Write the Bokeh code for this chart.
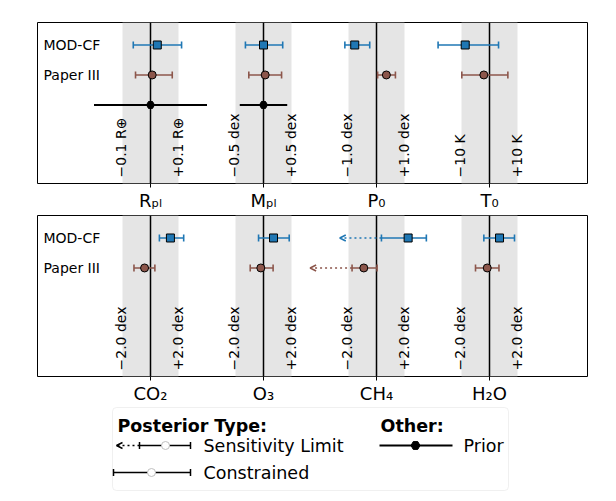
import numpy as np
from bokeh.plotting import figure
from bokeh.models import Range1d, FixedTicker, ColumnDataSource, Arrow, OpenHead, BoxAnnotation
from bokeh.layouts import column
from bokeh.embed import file_html
from bokeh.resources import INLINE
from bokeh.core.properties import value

BLUE = "#1f77b4"
BROWN = "#8c564b"
FONT = "DejaVu Sans"
BAND = 0.25  # half-width of grey band in column units

# ---------------- data: top panel ----------------
top_params = ["Rₚₗ", "Mₚₗ", "P₀", "T₀"]
top_scale = [0.1, 0.5, 1.0, 10.0]
top_minus = ["−0.1 R⊕", "−0.5 dex", "−1.0 dex", "−10 K"]
top_plus = ["+0.1 R⊕", "+0.5 dex", "+1.0 dex", "+10 K"]
modcf_top_val = [0.024, 0.0, -0.77, -8.6]
modcf_top_lo = [0.085, 0.32, 0.35, 9.6]
modcf_top_hi = [0.086, 0.34, 0.53, 11.8]
paper_top_val = [0.006, 0.03, 0.35, -2.0]
paper_top_lo = [0.059, 0.29, 0.31, 7.8]
paper_top_hi = [0.071, 0.29, 0.32, 8.5]
prior_val = [0.0, 0.0]        # R_pl, M_pl
prior_err = [0.2, 0.42]

# ---------------- data: bottom panel ----------------
bot_params = ["CO₂", "O₃", "CH₄", "H₂O"]
bot_scale = [2.0, 2.0, 2.0, 2.0]
bot_minus = ["−2.0 dex"] * 4
bot_plus = ["+2.0 dex"] * 4
modcf_bot_val = [1.41, 0.71, 2.24, 0.71]
modcf_bot_lo = [0.78, 1.06, 1.89, 1.11]
modcf_bot_hi = [0.94, 1.11, 1.29, 1.06]
modcf_bot_limit = [None, None, -2.6, None]   # sensitivity-limit arrow tip
paper_bot_val = [-0.42, -0.19, -0.90, -0.16]
paper_bot_lo = [0.75, 0.75, 0.83, 0.83]
paper_bot_hi = [0.73, 0.87, 0.94, 0.83]
paper_bot_limit = [None, None, -4.7, None]

ROW_Y = {"MOD-CF": 3.0, "Paper III": 2.0, "Prior": 1.0}


def to_x(vals, scales):
    cols = np.arange(1, len(vals) + 1)
    return cols + np.array(vals, dtype=float) / np.array(scales, dtype=float) * BAND


def make_panel(params, scales, minus, plus, border_top, border_bottom):
    p = figure(frame_width=550, frame_height=161, output_backend="svg", toolbar_location=None,
               x_range=Range1d(0, 550 / 113.0), y_range=Range1d(-1.62, 3.75),
               min_border_left=37, min_border_right=13, min_border_top=border_top,
               min_border_bottom=border_bottom, y_axis_location=None)
    p.xgrid.visible = False
    p.ygrid.visible = False
    p.outline_line_color = "black"
    p.outline_line_width = 1
    cols = np.arange(1, len(params) + 1)
    p.vstrip(x0=cols - BAND, x1=cols + BAND, fill_color="#e5e5e5", line_color=None)
    p.vspan(x=cols, line_color="black", line_width=1.5)
    ax = p.xaxis[0]
    ax.ticker = FixedTicker(ticks=list(cols))
    ax.major_label_overrides = {int(c): t for c, t in zip(cols, params)}
    ax.major_label_text_font = FONT
    ax.major_label_text_font_size = "18px"
    ax.major_label_text_color = "black"
    ax.major_label_standoff = 2
    ax.major_tick_out = 4
    ax.major_tick_in = 0
    ax.major_tick_line_color = "black"
    ax.minor_tick_line_color = None
    ax.axis_line_color = None
    p.text(x=cols - BAND, y=[-1.42] * len(cols), text=minus, angle=np.pi / 2,
           text_align="left", text_baseline="middle", text_font=value(FONT),
           text_font_size="14px", text_color="black", x_offset=-1)
    p.text(x=cols + BAND, y=[-1.42] * len(cols), text=plus, angle=np.pi / 2,
           text_align="left", text_baseline="middle", text_font=value(FONT),
           text_font_size="14px", text_color="black", x_offset=-1)
    p.text(x=[0.053, 0.053], y=[ROW_Y["MOD-CF"], ROW_Y["Paper III"]], text=["MOD-CF", "Paper III"],
           text_align="left", text_baseline="middle", text_font=value(FONT),
           text_font_size="14px", text_color="black")
    return p


def draw_series(p, vals, lo, hi, scales, y, color, marker, limits=None):
    v = np.array(vals, dtype=float)
    x = to_x(v, scales)
    x0 = to_x(v - np.array(lo), scales)
    x1 = to_x(v + np.array(hi), scales)
    ys = [y] * len(v)
    if limits is not None:
        xs, xe = [], []
        for i, lim in enumerate(limits):
            if lim is not None:
                xs.append(x0[i])
                xe.append(1 + i + lim / scales[i] * BAND)
        if xs:
            src = ColumnDataSource(dict(xs=xs, xe=xe, y=[y] * len(xs)))
            p.add_layout(Arrow(x_start="xs", y_start="y", x_end="xe", y_end="y", source=src,
                               line_color=color, line_width=1.6, line_dash="2 3", level="glyph",
                               end=OpenHead(size=6, line_color=color, line_width=1.6)))
    p.segment(x0, ys, x1, ys, line_color=color, line_width=1.6)
    p.scatter(np.r_[x0, x1], [y] * (2 * len(v)), marker="dash", angle=np.pi / 2, size=7,
              line_color=color, line_width=1.6)
    p.scatter(x, ys, marker=marker, size=8, fill_color=color, line_color="black", line_width=1)


p1 = make_panel(top_params, top_scale, top_minus, top_plus, 22, 30)
draw_series(p1, modcf_top_val, modcf_top_lo, modcf_top_hi, top_scale, ROW_Y["MOD-CF"], BLUE, "square")
draw_series(p1, paper_top_val, paper_top_lo, paper_top_hi, top_scale, ROW_Y["Paper III"], BROWN, "circle")
pv = np.array(prior_val)
psc = top_scale[:2]
p1.segment(to_x(pv - np.array(prior_err), psc), [ROW_Y["Prior"]] * 2,
           to_x(pv + np.array(prior_err), psc), [ROW_Y["Prior"]] * 2, line_color="black", line_width=2)
p1.scatter(to_x(pv, psc), [ROW_Y["Prior"]] * 2, marker="hex", size=8, fill_color="black", line_color="black")

p2 = make_panel(bot_params, bot_scale, bot_minus, bot_plus, 2, 30)
draw_series(p2, modcf_bot_val, modcf_bot_lo, modcf_bot_hi, bot_scale, ROW_Y["MOD-CF"], BLUE, "square",
            modcf_bot_limit)
draw_series(p2, paper_bot_val, paper_bot_lo, paper_bot_hi, bot_scale, ROW_Y["Paper III"], BROWN, "circle",
            paper_bot_limit)

# legend panel: coordinates are (x, -y) in image pixels; frame aligned with the panels above
p3 = figure(frame_width=550, frame_height=87, output_backend="svg", toolbar_location=None,
            x_range=Range1d(37, 587), y_range=Range1d(-493, -406),
            min_border_left=37, min_border_right=13, min_border_top=0, min_border_bottom=0,
            x_axis_location=None, y_axis_location=None)
p3.xgrid.visible = False
p3.ygrid.visible = False
p3.outline_line_color = None
p3.add_layout(BoxAnnotation(left=112, right=508, top=-407, bottom=-490, fill_color="white", fill_alpha=1,
                            line_color="#cccccc", line_width=1, border_radius=4, level="underlay"))
p3.text(x=[117, 380], y=[-425, -425], text=["Posterior Type:", "Other:"], text_align="left",
        text_baseline="middle", text_font=value(FONT), text_font_size="17.5px", text_font_style="bold",
        text_color="black")
p3.text(x=[203, 203, 463], y=[-445, -472, -445], text=["Sensitivity Limit", "Constrained", "Prior"],
        text_align="left", text_baseline="middle", text_font=value(FONT), text_font_size="17.5px",
        text_color="black")
lsrc = ColumnDataSource(dict(xs=[139], xe=[116], y=[-445]))
p3.add_layout(Arrow(x_start="xs", y_start="y", x_end="xe", y_end="y", source=lsrc, line_color="black",
                    line_width=1.5, line_dash="2 3", end=OpenHead(size=6, line_color="black", line_width=1.5)))
p3.segment([139, 113], [-445, -472], [190, 190], [-445, -472], line_color="black", line_width=1.5)
p3.scatter([139, 190, 113, 190], [-445, -445, -472, -472], marker="dash", angle=np.pi / 2, size=7,
           line_color="black", line_width=1.5)
p3.scatter([165, 151], [-445, -472], marker="circle", size=8, fill_color="white", line_color="#c0c0c0")
p3.segment([379], [-445], [452], [-445], line_color="black", line_width=2)
p3.scatter([415], [-445], marker="hex", size=9, fill_color="black", line_color="black")

layout = column(p1, p2, p3, spacing=0)
open("out.html", "w").write(file_html(layout, INLINE))
